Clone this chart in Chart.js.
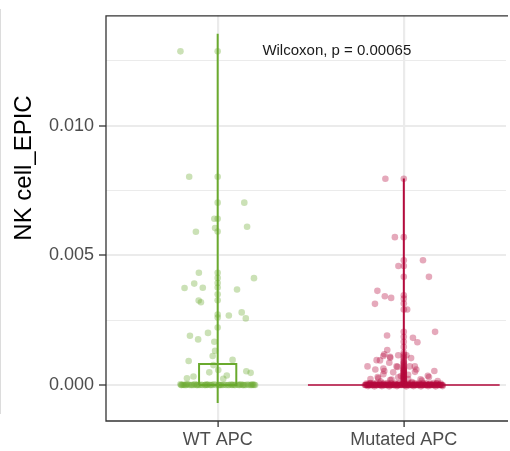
<!DOCTYPE html>
<html>
<head>
<meta charset="utf-8">
<script src="https://cdn.jsdelivr.net/npm/chart.js@4/dist/chart.umd.min.js"></script>
<style>
  html, body { margin: 0; padding: 0; background: #fff; }
  #wrap { position: relative; width: 510px; height: 451px; }
  #edge { position: absolute; left: 0; top: 9px; width: 1px; height: 405px; background: #dcdcdc; }
</style>
</head>
<body>
<div id="wrap">
  <div id="edge"></div>
  <canvas id="chart"></canvas>
</div>
<script>
// categories and axis
const groups = ["WT APC", "Mutated APC"];
const yTicks = [0, 0.0025, 0.005, 0.0075, 0.01, 0.0125];
const yMajor = [0, 0.005, 0.01];
const yTitle = "NK cell_EPIC";
const statLabel = "Wilcoxon, p = 0.00065";
const statAt = [1.64, 0.01288];

// WT APC: jittered points (offset from group centre) and values
const wtJitter = [-0.200, -0.153, 0.143, -0.117, 0.158, -0.018, -0.014, -0.101, 0.195, -0.126,
  -0.178, -0.080, 0.104, -0.102, -0.090, 0.060, 0.129, 0.151, -0.149, -0.105,
  -0.052, -0.018, -0.156, -0.027, -0.014, 0.080, -0.023, -0.045, 0.049, 0.154,
  0.177, -0.165, -0.130, 0.030, 0.003,
  -0.200, -0.187, -0.174, -0.158, -0.142, -0.123, -0.105, -0.089, -0.070, -0.052,
  -0.036, -0.020, 0.018, 0.036, 0.055, 0.071, 0.089, 0.108, 0.124, 0.143,
  0.161, 0.177, 0.196, -0.193, -0.166, -0.115, -0.061, 0.008, 0.082, 0.133, 0.186];
const wtValues = [0.01286, 0.00803, 0.00703, 0.00591, 0.00610, 0.00641, 0.00605, 0.00433, 0.00412, 0.00391,
  0.00374, 0.00375, 0.00368, 0.00326, 0.00319, 0.00268, 0.00280, 0.00257, 0.00190, 0.00176,
  0.00201, 0.00167, 0.00093, 0.00112, 0.00132, 0.00097, 0.00077, 0.00049, 0.00037, 0.00053,
  0.00047, 0.00026, 0.00033, 0.00024, 0.00058,
  0.00003, 0.00001, 0, 0.00002, 0, 0.00004, 0, 0.00001, 0, 0.00002,
  0, 0.00003, 0, 0.00001, 0, 0.00002, 0, 0.00001, 0.00003, 0,
  0.00002, 0, 0.00001, 0, 0.00004, 0, 0.00002, 0, 0.00001, 0, 0.00003];
// WT APC: further observations sitting at zero (jitter offsets only)
const wtZeroJitter = [-0.196, -0.181, -0.169, -0.151, -0.137, -0.128, -0.111, -0.097, -0.083, -0.066,
  -0.057, -0.041, -0.029, -0.009, 0.004, 0.013, 0.027, 0.045, 0.062, 0.077,
  0.094, 0.113, 0.119, 0.138, 0.150, 0.168, 0.182, 0.191, 0.201];
// WT APC: boxplot outliers (drawn at the group centre)
const wtOutliers = [0.01286, 0.00803, 0.00703, 0.00641, 0.00592, 0.00433, 0.00413, 0.00393,
  0.00376, 0.00350, 0.00327, 0.00272, 0.00260, 0.00222];
// WT APC: box [q1, median, q3] and violin extent [low, high]
const wtBox = [0, 0, 0.00081];
const wtRange = [-0.00069, 0.01354];

// Mutated APC
const mutJitter = [-0.099, -0.048, 0.103, -0.029, 0.135, -0.142, -0.102, -0.068, -0.155, 0.018,
  0.168, -0.090, 0.049, 0.073, -0.089, -0.105, -0.030, 0.039, -0.128, -0.073,
  0.014, -0.195, -0.153, -0.078, -0.039, 0.032, 0.059, -0.105, -0.057, 0.060,
  0.164, -0.140, -0.030, 0.135, -0.124, 0.097, -0.179, -0.073, 0.023, 0.182,
  -0.110, -0.146, -0.074, -0.110, -0.034, 0.067, 0.129, -0.110, -0.137, -0.016,
  0.090, 0.023, -0.066, 0.044, -0.179,
  -0.205, -0.197, -0.189, -0.180, -0.171, -0.161, -0.152, -0.143, -0.132, -0.122,
  -0.113, -0.102, -0.094, -0.083, -0.074, -0.063, -0.053, -0.042, -0.032, -0.021,
  -0.012, 0.009, 0.018, 0.029, 0.038, 0.047, 0.058, 0.066, 0.077, 0.088,
  0.097, 0.106, 0.117, 0.126, 0.137, 0.146, 0.155, 0.166, 0.174, 0.185,
  0.194, 0.203, -0.201, -0.184, -0.166, -0.147, -0.127, -0.108, -0.088, -0.069,
  -0.047, -0.026, 0.004, 0.024, 0.043, 0.062, 0.083, 0.101, 0.121, 0.141,
  0.160, 0.179, 0.198, -0.192, -0.158, -0.118, -0.079, -0.037, 0.013, 0.052,
  0.092, 0.131, 0.171, 0.208];
const mutValues = [0.00795, 0.00570, 0.00481, 0.00459, 0.00417, 0.00363, 0.00342, 0.00336, 0.00313, 0.00291,
  0.00205, 0.00191, 0.00182, 0.00165, 0.00135, 0.00119, 0.00115, 0.00104, 0.00095, 0.00105,
  0.00115, 0.00072, 0.00060, 0.00086, 0.00072, 0.00072, 0.00072, 0.00054, 0.00049, 0.00051,
  0.00054, 0.00031, 0.00030, 0.00031, 0.00014, 0.00017, 0.00023, 0.00019, 0.00023, 0.00015,
  0.00112, 0.00096, 0.00109, 0.00064, 0.00070, 0.00060, 0.00036, 0.00042, 0.00026, 0.00035,
  0.00022, 0.00040, 0.00021, 0.00012, 0.00008,
  0, 0.00002, 0, 0.00004, 0, 0.00001, 0.00003, 0, 0.00002, 0,
  0.00005, 0, 0.00001, 0.00003, 0, 0.00002, 0, 0.00004, 0, 0.00001,
  0.00003, 0, 0.00002, 0, 0.00005, 0, 0.00001, 0.00003, 0, 0.00002,
  0, 0.00004, 0, 0.00001, 0.00003, 0, 0.00002, 0, 0.00005, 0,
  0.00001, 0, 0.00006, 0.00007, 0.00006, 0.00008, 0.00007, 0.00006, 0.00008, 0.00007,
  0.00006, 0.00008, 0.00007, 0.00006, 0.00008, 0.00007, 0.00006, 0.00008, 0.00007, 0.00006,
  0.00008, 0.00007, 0.00006, -0.00004, -0.00005, -0.00004, -0.00005, -0.00004, -0.00005, -0.00004,
  -0.00005, -0.00004, -0.00005, -0.00004];
// Mutated APC: further observations sitting at zero (jitter offsets only)
const mutZeroJitter = [-0.209, -0.203, -0.199, -0.192, -0.187, -0.183, -0.176, -0.170, -0.166, -0.159,
  -0.155, -0.148, -0.144, -0.137, -0.131, -0.127, -0.120, -0.116, -0.109, -0.105,
  -0.098, -0.092, -0.088, -0.081, -0.077, -0.070, -0.066, -0.059, -0.053, -0.049,
  -0.043, -0.038, -0.031, -0.027, -0.020, -0.014, -0.010, -0.003, 0.002, 0.008,
  0.012, 0.019, 0.025, 0.029, 0.036, 0.040, 0.047, 0.051, 0.058, 0.064,
  0.068, 0.075, 0.079, 0.086, 0.091, 0.097, 0.103, 0.107, 0.114, 0.118,
  0.125, 0.129, 0.136, 0.142, 0.146, 0.153, 0.157, 0.164, 0.169, 0.175,
  0.181, 0.185, 0.192, 0.196, 0.203, 0.209];
const mutOutliers = [0.00795, 0.00570, 0.00481, 0.00459, 0.00417, 0.00346, 0.00333, 0.00314, 0.00291,
  0.00205, 0.00186, 0.00167, 0.00147, 0.00125, 0.00118, 0.00110, 0.00104, 0.00098, 0.00092,
  0.00088, 0.00084, 0.00080, 0.00076, 0.00072, 0.00068, 0.00066, 0.00062, 0.00060, 0.00057,
  0.00055, 0.00052, 0.00050, 0.00047, 0.00045, 0.00042, 0.00040, 0.00037, 0.00035, 0.00032,
  0.00030, 0.00027, 0.00025, 0.00022, 0.00020, 0.00017, 0.00015, 0.00012, 0.00010, 0.00007,
  0.00005, 0.00003];
const mutBox = [0, 0, 0];
const mutRange = [0, 0.00796];

const GREEN = "#6aaa2e";
const RED = "#b40a3c";
const GREEN_PT = "rgba(106, 170, 46, 0.35)";
const RED_PT = "rgba(180, 10, 60, 0.35)";

function jittered(pos, offsets, values) {
    return values.map((v, i) => ({ x: pos + offsets[i], y: v }));
}
function atZero(pos, offsets) {
    return offsets.map(o => ({ x: pos + o, y: 0 }));
}
function centred(pos, values) {
    return values.map(v => ({ x: pos, y: v }));
}
function vline(pos, range) {
    return [{ x: pos, y: range[0] }, { x: pos, y: range[1] }];
}
function boxPath(pos, box, hw) {
    return [
        { x: pos - hw, y: box[0] }, { x: pos + hw, y: box[0] },
        { x: pos + hw, y: box[2] }, { x: pos - hw, y: box[2] },
        { x: pos - hw, y: box[0] }
    ];
}

function pts(data, color) {
    return { type: "scatter", data, backgroundColor: color, borderWidth: 0, pointRadius: 3.3, showLine: false };
}
function path(data, color, width) {
    return { type: "scatter", data, showLine: true, borderColor: color, borderWidth: width, pointRadius: 0, fill: false };
}

const frameAndLabels = {
    id: "frameAndLabels",
    afterDraw(chart) {
        const { ctx, chartArea: a, scales } = chart;
        ctx.save();
        ctx.strokeStyle = "#333";
        ctx.lineWidth = 1.3;
        ctx.beginPath();
        ctx.moveTo(a.right + 2, a.top);
        ctx.lineTo(a.left, a.top);
        ctx.lineTo(a.left, a.bottom);
        ctx.lineTo(a.right + 2, a.bottom);
        ctx.stroke();

        ctx.fillStyle = "#1a1a1a";
        ctx.textAlign = "center";
        ctx.textBaseline = "middle";
        ctx.font = "15px 'Liberation Sans', Arial, sans-serif";
        ctx.fillText(statLabel, scales.x.getPixelForValue(statAt[0]), scales.y.getPixelForValue(statAt[1]));

        ctx.translate(24, 168);
        ctx.rotate(-Math.PI / 2);
        ctx.fillStyle = "#000";
        ctx.font = "24px 'Liberation Sans', Arial, sans-serif";
        ctx.fillText(yTitle, 0, 0);
        ctx.restore();
    }
};

Chart.defaults.font.family = "'Liberation Sans', Arial, sans-serif";

new Chart(document.getElementById("chart").getContext("2d"), {
    type: "scatter",
    data: {
        datasets: [
            pts(jittered(1, wtJitter, wtValues), GREEN_PT),
            pts(atZero(1, wtZeroJitter), GREEN_PT),
            pts(centred(1, wtOutliers), GREEN_PT),
            pts(jittered(2, mutJitter, mutValues), RED_PT),
            pts(atZero(2, mutZeroJitter), RED_PT),
            pts(centred(2, mutOutliers), RED_PT),
            path(boxPath(1, wtBox, 0.1), GREEN, 2),
            path(vline(1, wtRange), GREEN, 2),
            path(boxPath(2, mutBox, 0.515), RED, 1.6),
            path(vline(2, mutRange), RED, 2)
        ]
    },
    options: {
        responsive: true,
        maintainAspectRatio: false,
        animation: false,
        layout: { padding: { top: 15, left: 0, right: 0, bottom: 0 } },
        plugins: { legend: { display: false }, tooltip: { enabled: false } },
        scales: {
            x: {
                type: "linear",
                min: 0.4,
                max: 2.549,
                afterBuildTicks: axis => { axis.ticks = groups.map((g, i) => ({ value: i + 1 })); },
                afterFit: scale => { scale.height = 30; },
                border: { display: false },
                grid: { color: "#ebebeb", lineWidth: 2.2, tickColor: "#333", tickLength: 6, tickWidth: 1.3 },
                ticks: {
                    color: "#4d4d4d",
                    font: { size: 18 },
                    padding: 2,
                    maxRotation: 0,
                    callback: v => groups[v - 1]
                }
            },
            y: {
                min: -0.001385,
                max: 0.014231,
                afterBuildTicks: axis => { axis.ticks = yTicks.map(v => ({ value: v })); },
                afterFit: scale => { scale.width = 106; },
                border: { display: false },
                grid: {
                    color: "#ebebeb",
                    lineWidth: c => yMajor.includes(c.tick && c.tick.value) ? 2 : 1,
                    tickColor: c => yMajor.includes(c.tick && c.tick.value) ? "#333" : "rgba(0,0,0,0)",
                    tickLength: 7,
                    tickWidth: 1.3
                },
                ticks: {
                    color: "#4d4d4d",
                    font: { size: 18 },
                    padding: 5,
                    callback: v => yMajor.includes(v) ? v.toFixed(3) : ""
                }
            }
        }
    },
    plugins: [frameAndLabels]
});
</script>
</body>
</html>
